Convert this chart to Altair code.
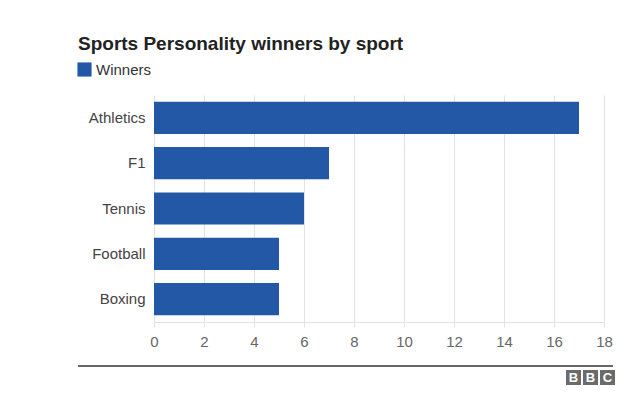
import altair as alt
import pandas as pd

sports = ["Athletics", "F1", "Tennis", "Football", "Boxing"]
winners = [17, 7, 6, 5, 5]
series = "Winners"
x_ticks = [0, 2, 4, 6, 8, 10, 12, 14, 16, 18]
title_text = "Sports Personality winners by sport"
logo_letters = ["B", "B", "C"]

df = pd.DataFrame({"sport": sports, "value": winners, "series": [series] * len(sports)})

FONT = "Liberation Sans"
BLUE = "#2358a6"

bars = alt.Chart(df).mark_bar(color=BLUE).encode(
    y=alt.Y("sport:N", sort=sports, title=None,
            scale=alt.Scale(paddingInner=0.29, paddingOuter=0.15),
            axis=alt.Axis(domain=False, ticks=False, labelPadding=9, labelFontSize=15,
                          labelColor="#444", labelFont=FONT, grid=False)),
    x=alt.X("value:Q", title=None,
            scale=alt.Scale(domain=[0, 18], nice=False),
            axis=alt.Axis(values=x_ticks, grid=True, gridColor="#e2e2e2", domainColor="#e2e2e2",
                          tickColor="#e2e2e2", tickSize=5, labelPadding=7, labelFontSize=15,
                          labelColor="#666", labelFont=FONT, labelFlush=False)),
    color=alt.Color("series:N", scale=alt.Scale(range=[BLUE]),
                    legend=alt.Legend(orient="none", legendX=-77, legendY=-33, title=None,
                                      symbolType="square", symbolSize=200, symbolStrokeWidth=0,
                                      labelFontSize=15, labelColor="#333", labelFont=FONT,
                                      direction="horizontal")),
)

one = alt.Data(values=[{}])

title = alt.Chart(one).mark_text(
    text=title_text, font=FONT, fontSize=19, fontWeight="bold", color="#222",
    align="left", baseline="alphabetic"
).encode(x=alt.value(-76), y=alt.value(-45))

bottom_rule = alt.Chart(one).mark_rule(color="#333", strokeWidth=1.5).encode(
    x=alt.value(-76), x2=alt.value(459), y=alt.value(271)
)

logo_layers = []
for i, letter in enumerate(logo_letters):
    x0 = 412 + i * 17
    logo_layers.append(
        alt.Chart(one).mark_rect(color="#6b6b6b").encode(
            x=alt.value(x0), x2=alt.value(x0 + 15), y=alt.value(275), y2=alt.value(290)
        )
    )
    logo_layers.append(
        alt.Chart(one).mark_text(text=letter, font=FONT, fontSize=13, fontWeight="bold",
                                 color="white", align="center", baseline="middle").encode(
            x=alt.value(x0 + 7.5), y=alt.value(283)
        )
    )

chart = alt.layer(bars, title, bottom_rule, *logo_layers).properties(
    width=450, height=227,
    autosize=alt.AutoSizeParams(type="none"),
    padding={"left": 154, "top": 95, "right": 36, "bottom": 86},
    background="white",
).configure_view(stroke=None)

chart.save("out.html", embed_options={"renderer": "svg", "actions": False})
